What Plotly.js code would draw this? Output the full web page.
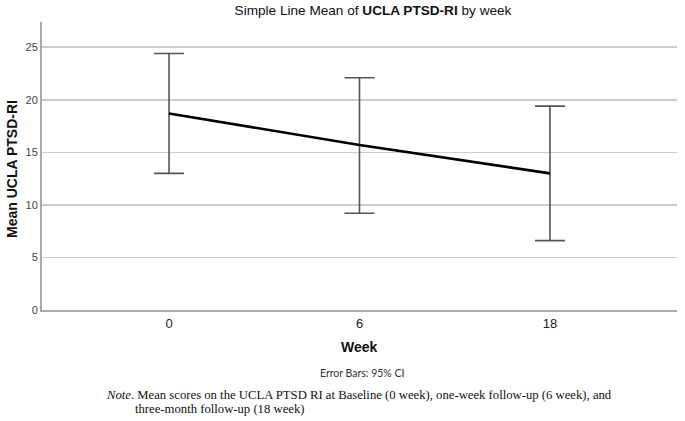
<!DOCTYPE html>
<html>
<head>
<meta charset="utf-8">
<script src="https://cdn.plot.ly/plotly-3.0.1.min.js"></script>
<style>html,body{margin:0;padding:0;background:#fff;}#chart{width:685px;height:421px;}</style>
</head>
<body>
<div id="chart"></div>
<script>
const weeks = ["0", "6", "18"];
const means = [18.7, 15.7, 13.0];
const upperCI = [24.4, 22.1, 19.4];
const lowerCI = [13.0, 9.2, 6.6];
const yTicks = [0, 5, 10, 15, 20, 25];

const errPlus = upperCI.map((u, i) => u - means[i]);
const errMinus = lowerCI.map((l, i) => means[i] - l);

const sans = "Liberation Sans Narrow, Liberation Sans, Arial, sans-serif";
const L = 42, R = 677, T = 22, B = 310;
const px = x => (x - L) / (R - L);
const py = y => (B - y) / (B - T);

const trace = {
  x: weeks, y: means, type: "scatter", mode: "lines",
  line: {color: "#000", width: 2.6},
  error_y: {type: "data", symmetric: false, array: errPlus, arrayminus: errMinus,
            color: "#555", thickness: 1.6, width: 15},
  hoverinfo: "none"
};

const layout = {
  width: 685, height: 421,
  margin: {l: L, r: 685 - R, t: T, b: 421 - B, pad: 0},
  paper_bgcolor: "#fff", plot_bgcolor: "#fff",
  showlegend: false,
  title: {text: "Simple Line Mean of <b>UCLA PTSD-RI</b> by week",
          font: {family: "Liberation Sans, Arial, sans-serif", size: 13.6, color: "#111"},
          xref: "container", x: 373 / 685, xanchor: "center",
          yref: "container", y: 1 - 10 / 421, yanchor: "middle"},
  xaxis: {type: "category", range: [-0.667, 2.667], showgrid: false,
          showline: true, linecolor: "#aaa", linewidth: 2, ticks: "",
          tickfont: {family: sans, size: 13, color: "#222"}, zeroline: false, fixedrange: true},
  yaxis: {range: [0, 27.4], tickvals: yTicks, ticktext: yTicks.map(String),
          showgrid: true, gridcolor: "#cccccc", gridwidth: 1.5,
          showline: true, linecolor: "#aaa", linewidth: 2, ticks: "",
          tickfont: {family: "Liberation Sans, Arial, sans-serif", size: 11, color: "#444"},
          zeroline: false, fixedrange: true},
  annotations: [
    {text: "<b>Mean UCLA PTSD-RI</b>", xref: "paper", yref: "paper", x: px(12), y: py(169),
     textangle: -90, showarrow: false, xanchor: "center", yanchor: "middle",
     font: {family: "Liberation Sans, Arial, sans-serif", size: 14, color: "#111"}},
    {text: "<b>Week</b>", xref: "paper", yref: "paper", x: px(359), y: py(347),
     showarrow: false, xanchor: "center", yanchor: "middle",
     font: {family: "Liberation Sans, Arial, sans-serif", size: 14, color: "#111"}},
    {text: "Error Bars: 95% CI", xref: "paper", yref: "paper", x: px(362), y: py(373),
     showarrow: false, xanchor: "center", yanchor: "middle",
     font: {family: "Lato, Open Sans, sans-serif", size: 10.5, color: "#333"}},
    {text: "<i>Note</i>. Mean scores on the UCLA PTSD RI at Baseline (0 week), one-week follow-up (6 week), and",
     xref: "paper", yref: "paper", x: px(104), y: py(395),
     showarrow: false, xanchor: "left", yanchor: "middle",
     font: {family: "Liberation Serif, Times New Roman, serif", size: 12.7, color: "#111"}},
    {text: "three-month follow-up (18 week)",
     xref: "paper", yref: "paper", x: px(133), y: py(409),
     showarrow: false, xanchor: "left", yanchor: "middle",
     font: {family: "Liberation Serif, Times New Roman, serif", size: 12.7, color: "#111"}}
  ]
};

Plotly.newPlot("chart", [trace], layout, {displayModeBar: false, staticPlot: true});
</script>
</body>
</html>
